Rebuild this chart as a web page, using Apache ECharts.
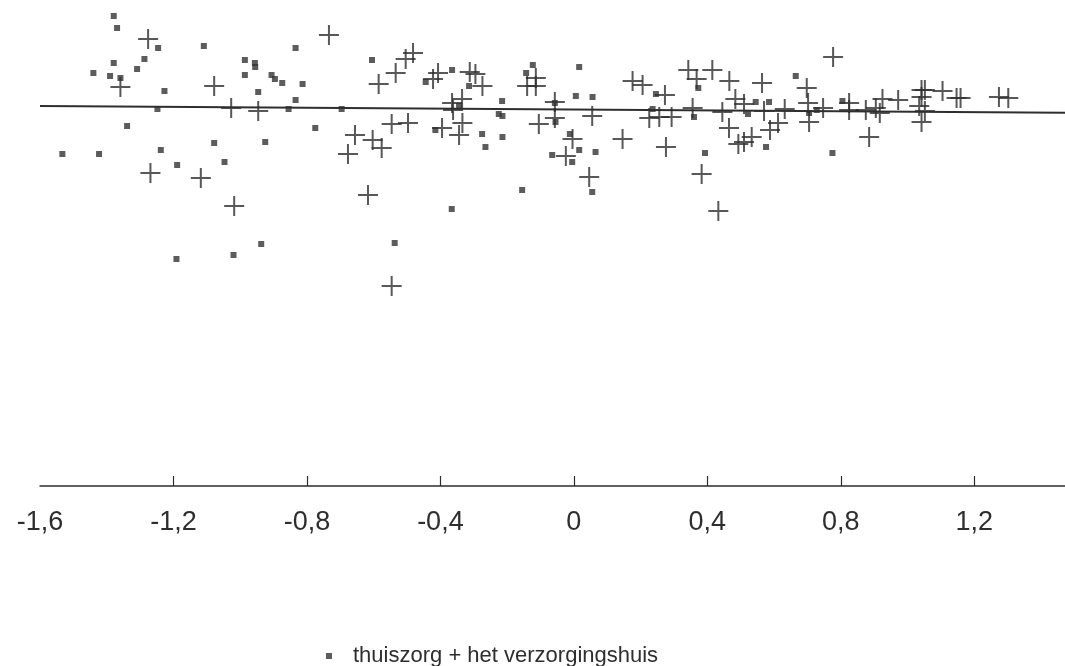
<!DOCTYPE html>
<html>
<head>
<meta charset="utf-8">
<script src="https://cdn.jsdelivr.net/npm/echarts@6/dist/echarts.min.js"></script>
<style>
  html, body { margin: 0; padding: 0; background: #fff; }
  #chart { width: 1065px; height: 666px; }
</style>
</head>
<body>
<div id="chart"></div>
<script>
// x ticks / labels
const tickValues = [-1.2, -0.8, -0.4, 0, 0.4, 0.8, 1.2];
const labelValues = [-1.6, -1.2, -0.8, -0.4, 0, 0.4, 0.8, 1.2];

// thuiszorg + het verzorgingshuis (squares)
const squarePoints = [
    [-1.379, 0.90], [-1.369, 0.78], [-1.246, 0.58], [-1.109, 0.60], [-0.834, 0.58],
    [-1.379, 0.43], [-1.287, 0.47], [-1.309, 0.37], [-1.440, 0.33], [-1.390, 0.30],
    [-1.359, 0.28], [-0.986, 0.46], [-0.956, 0.43], [-0.955, 0.39], [-0.986, 0.31],
    [-0.906, 0.31], [-0.896, 0.27], [-0.874, 0.23], [-1.227, 0.15], [-0.946, 0.14],
    [-0.813, 0.22], [-0.834, 0.06], [-1.248, -0.03], [-0.855, -0.03], [-1.339, -0.20],
    [-0.925, -0.36], [-1.533, -0.48], [-1.423, -0.48], [-1.078, -0.37], [-1.238, -0.44],
    [-1.047, -0.56], [-1.189, -0.59], [-0.937, -1.38], [-1.020, -1.49], [-1.191, -1.53],
    [-0.605, 0.46], [-0.365, 0.36], [-0.444, 0.24], [-0.314, 0.20], [-0.143, 0.33],
    [-0.123, 0.41], [-0.215, 0.05], [-0.696, -0.03], [-0.344, 0.00], [-0.225, -0.08],
    [-0.214, -0.10], [-0.775, -0.22], [-0.415, -0.24], [-0.275, -0.28], [-0.214, -0.31],
    [-0.265, -0.41], [-0.055, -0.16], [-0.065, -0.49], [-0.155, -0.84], [-0.366, -1.03],
    [-0.537, -1.37], [-0.057, 0.03], [0.016, 0.39], [0.006, 0.10], [0.056, 0.09],
    [-0.012, -0.28], [0.016, -0.44], [0.065, -0.46], [-0.005, -0.56], [0.055, -0.86],
    [0.246, 0.12], [0.236, -0.03], [0.373, 0.18], [0.360, -0.11], [0.393, -0.47],
    [0.545, 0.04], [0.522, -0.08], [0.585, 0.04], [0.576, -0.41], [0.665, 0.30],
    [0.705, -0.07], [0.728, -0.04], [0.775, -0.47], [0.805, 0.05]
];

// other group (plus markers)
const plusPoints = [
    [-1.276, 0.67], [-1.359, 0.19], [-1.078, 0.20], [-1.027, -0.02], [-0.946, -0.05],
    [-1.269, -0.67], [-1.118, -0.72], [-1.018, -1.00], [-0.734, 0.71], [-0.482, 0.53],
    [-0.504, 0.47], [-0.534, 0.33], [-0.585, 0.22], [-0.407, 0.33], [-0.422, 0.27],
    [-0.312, 0.34], [-0.295, 0.32], [-0.274, 0.20], [-0.140, 0.20], [-0.114, 0.28],
    [-0.114, 0.20], [-0.335, 0.07], [-0.365, 0.03], [-0.362, -0.04], [-0.546, -0.18],
    [-0.497, -0.17], [-0.395, -0.22], [-0.334, -0.17], [-0.344, -0.29], [-0.656, -0.29],
    [-0.603, -0.34], [-0.576, -0.42], [-0.677, -0.48], [-0.105, -0.18], [-0.057, 0.04],
    [-0.057, -0.12], [-0.617, -0.89], [-0.546, -1.80], [0.055, -0.10], [-0.004, -0.33],
    [-0.024, -0.50], [0.046, -0.71], [0.176, 0.25], [0.206, 0.21], [0.273, 0.11],
    [0.226, -0.12], [0.256, -0.11], [0.293, -0.11], [0.146, -0.33], [0.276, -0.41],
    [0.343, 0.36], [0.368, 0.27], [0.415, 0.36], [0.466, 0.25], [0.564, 0.23],
    [0.484, 0.07], [0.510, 0.02], [0.356, -0.02], [0.445, -0.06], [0.465, -0.22],
    [0.493, -0.38], [0.510, -0.36], [0.533, -0.31], [0.570, -0.05], [0.588, -0.24],
    [0.612, -0.17], [0.632, -0.03], [0.698, 0.18], [0.702, 0.03], [0.705, -0.16],
    [0.383, -0.68], [0.433, -1.05], [0.777, 0.49], [0.747, -0.02], [0.825, 0.03],
    [0.825, -0.04], [0.875, -0.04], [0.885, -0.31], [0.905, -0.02], [0.917, -0.07],
    [0.925, 0.07], [0.972, 0.06], [1.042, 0.16], [1.052, 0.16], [1.042, 0.09],
    [1.035, 0.00], [1.052, -0.05], [1.042, -0.16], [1.105, 0.15], [1.147, 0.08],
    [1.159, 0.08], [1.274, 0.09], [1.302, 0.08]
];

// fitted line
const fitLine = [[-1.6, 0], [1.472, -0.067]];

const ink = '#2e2e2e';
const plusPath = 'path://M9,0H11V9H20V11H11V20H9V11H0V9H9Z';

const chart = echarts.init(document.getElementById('chart'));

chart.setOption({
    animation: false,
    backgroundColor: '#fff',
    grid: { left: 40, right: 0, top: 6, bottom: 180 },
    legend: {
        data: ['thuiszorg + het verzorgingshuis'],
        left: 321,
        top: 640,
        icon: 'rect',
        itemWidth: 6,
        itemHeight: 6,
        textStyle: {
            fontFamily: 'Liberation Sans',
            fontSize: 22,
            color: ink,
            padding: [0, 0, 0, 16]
        }
    },
    xAxis: {
        type: 'value',
        min: -1.6,
        max: 1.472,
        interval: 0.4,
        splitLine: { show: false },
        axisLine: { onZero: false, lineStyle: { color: ink, width: 1.5 } },
        axisTick: {
            inside: true,
            length: 10,
            customValues: tickValues,
            lineStyle: { color: ink, width: 1.2 }
        },
        axisLabel: {
            customValues: labelValues,
            margin: 23,
            fontFamily: 'Liberation Sans',
            fontSize: 27,
            color: ink,
            formatter: v => String(Math.round(v * 10) / 10).replace('.', ',')
        }
    },
    yAxis: {
        type: 'value',
        min: -3.8,
        max: 1,
        show: false
    },
    series: [
        {
            name: 'thuiszorg + het verzorgingshuis',
            type: 'scatter',
            symbol: 'rect',
            symbolSize: 6,
            itemStyle: { color: '#333' },
            data: squarePoints
        },
        {
            name: 'thuiszorg',
            type: 'scatter',
            symbol: plusPath,
            symbolSize: 20,
            itemStyle: { color: ink },
            data: plusPoints
        },
        {
            name: 'regressielijn',
            type: 'line',
            symbol: 'none',
            lineStyle: { color: ink, width: 2 },
            data: fitLine
        }
    ]
});
</script>
</body>
</html>
